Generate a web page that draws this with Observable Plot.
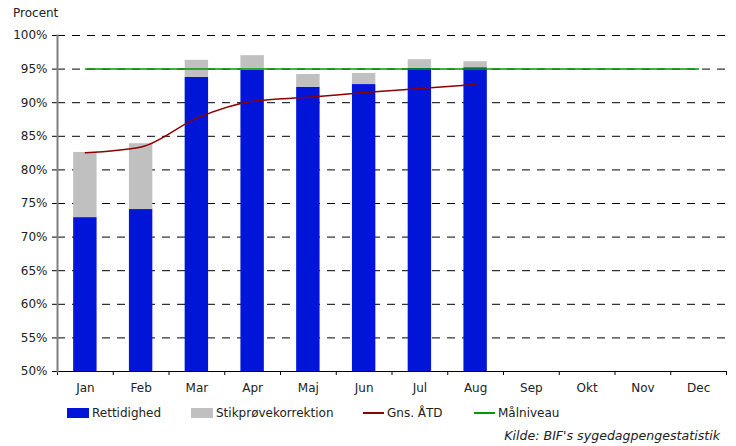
<!DOCTYPE html>
<html>
<head>
<meta charset="utf-8">
<script src="https://cdn.jsdelivr.net/npm/d3@7"></script>
<script src="https://cdn.jsdelivr.net/npm/@observablehq/plot@0.6"></script>
<style>
  body { margin: 0; background: #fff; font-family: "DejaVu Sans", Verdana, sans-serif; }
  #wrap { position: relative; width: 736px; height: 446px; overflow: hidden; }
  #chart { position: absolute; left: 0; top: 0; }
  .t { position: absolute; font-size: 12px; line-height: 16px; color: #222; white-space: nowrap; }
  .sw { position: absolute; }
</style>
</head>
<body>
<div id="wrap">
  <div id="chart"></div>
  <div class="t" style="left:13px; top:5px;">Procent</div>
  <div id="legend"></div>
  <div class="t" style="right:16px; top:428px; font-style:italic; font-size:12.6px;">Kilde: BIF's sygedagpengestatistik</div>
</div>
<script>
const months = ["Jan","Feb","Mar","Apr","Maj","Jun","Jul","Aug","Sep","Okt","Nov","Dec"];
const barMonths = ["Jan","Feb","Mar","Apr","Maj","Jun","Jul","Aug"];
const rettidighed = [72.9, 74.1, 93.75, 94.8, 92.3, 92.7, 95.1, 95.2];
const stikproeve = [9.7, 9.8, 2.55, 2.2, 1.9, 1.65, 1.3, 0.9];
const gnsAtd = [82.55, 83.4, 87.7, 90.2, 90.8, 91.5, 92.1, 92.7];
const maalniveau = 95;
const yTicks = [50, 55, 60, 65, 70, 75, 80, 85, 90, 95, 100];

const colors = { ret: "#0015d8", stik: "#c0c0c0", gns: "#8b0000", maal: "#009a00" };

const W = 736, H = 400, ML = 57, MR = 10, MT = 35, MB = 29;
const step = (W - ML - MR) / months.length;

const bars = barMonths.map((m, i) => ({ month: m, ret: rettidighed[i], top: rettidighed[i] + stikproeve[i] }));
const line = barMonths.map((m, i) => ({ month: m, v: gnsAtd[i] }));
const goal = months.map(m => ({ month: m, v: maalniveau }));

const chart = Plot.plot({
  width: W, height: H,
  marginLeft: ML, marginRight: MR, marginTop: MT, marginBottom: MB,
  style: { fontFamily: "DejaVu Sans, Verdana, sans-serif", fontSize: "12px", color: "#222", background: "white" },
  x: { type: "band", domain: months, paddingInner: 0.58, paddingOuter: 0.29, round: false, label: null },
  y: { domain: [50, 100], ticks: yTicks, label: null },
  marks: [
    Plot.ruleY(yTicks.filter(t => t > 50), { stroke: "#000", strokeDasharray: "8,7", strokeWidth: 1 }),
    Plot.barY(bars, { x: "month", y1: 50, y2: "ret", fill: colors.ret }),
    Plot.barY(bars, { x: "month", y1: "ret", y2: "top", fill: colors.stik }),
    Plot.lineY(goal, { x: "month", y: "v", stroke: colors.maal, strokeWidth: 1.5 }),
    Plot.lineY(line, { x: "month", y: "v", stroke: colors.gns, strokeWidth: 1.5, curve: "monotone-x" }),
    Plot.axisY({ ticks: yTicks, tickFormat: d => d + "%", tickSize: 5, tickPadding: 5, stroke: "#000", label: null }),
    Plot.axisX({ tickSize: 0, tickPadding: 12, label: null }),
    Plot.axisX(months, { tickSize: 4, tickFormat: () => "", dx: -step / 2, stroke: "#000", label: null }),
    Plot.axisX(["Dec"], { tickSize: 4, tickFormat: () => "", dx: step / 2, stroke: "#000", label: null }),
    Plot.ruleY([50], { stroke: "#000", strokeWidth: 1 }),
    Plot.frame({ anchor: "left", stroke: "#808080", strokeWidth: 2 })
  ]
});
document.getElementById("chart").appendChild(chart);

const legendItems = [
  { label: "Rettidighed", kind: "rect", color: colors.ret, x: 67 },
  { label: "Stikprøvekorrektion", kind: "rect", color: colors.stik, x: 191 },
  { label: "Gns. ÅTD", kind: "line", color: colors.gns, x: 363 },
  { label: "Målniveau", kind: "line", color: colors.maal, x: 474 }
];
const lg = document.getElementById("legend");
for (const it of legendItems) {
  const s = document.createElement("div");
  s.className = "sw";
  s.style.left = it.x + "px";
  s.style.width = (it.kind === "rect" ? 22 : 21) + "px";
  if (it.kind === "rect") { s.style.top = "408px"; s.style.height = "10px"; }
  else { s.style.top = "412px"; s.style.height = "2px"; }
  s.style.background = it.color;
  lg.appendChild(s);
  const t = document.createElement("div");
  t.className = "t";
  t.style.left = (it.x + (it.kind === "rect" ? 25 : 24)) + "px";
  t.style.top = "405px";
  t.textContent = it.label;
  lg.appendChild(t);
}
</script>
</body>
</html>
